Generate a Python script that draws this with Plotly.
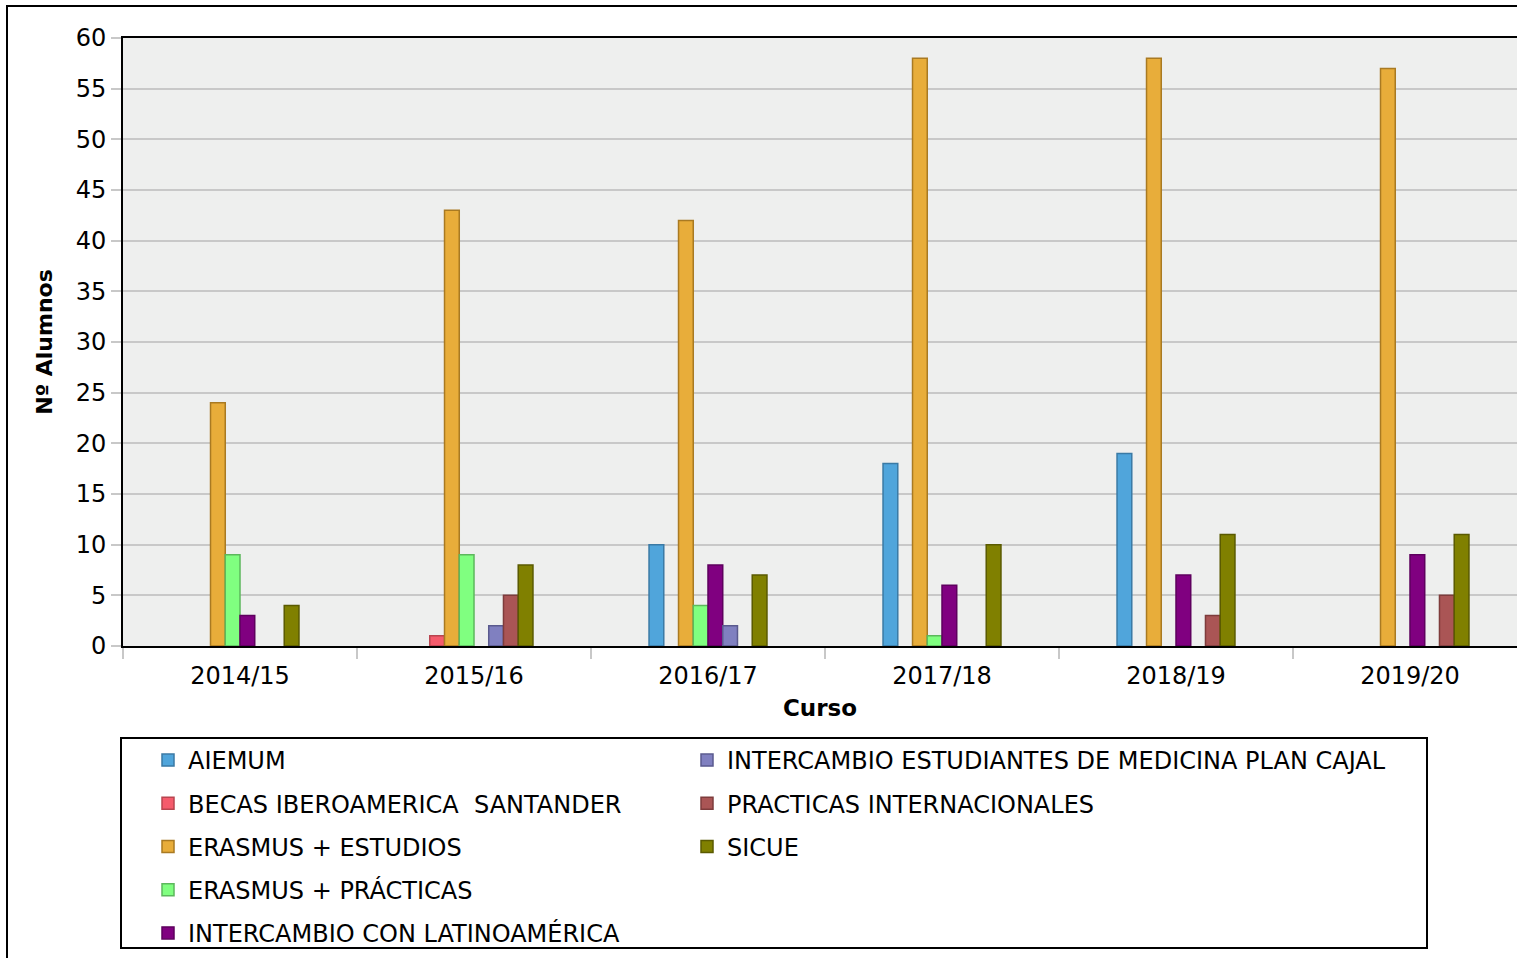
import plotly.graph_objects as go

cursos = ["2014/15", "2015/16", "2016/17", "2017/18", "2018/19", "2019/20"]

aiemum = [0, 0, 10, 18, 19, 0]
becas_santander = [0, 1, 0, 0, 0, 0]
erasmus_estudios = [24, 43, 42, 58, 58, 57]
erasmus_practicas = [9, 9, 4, 1, 0, 0]
intercambio_latam = [3, 0, 8, 6, 7, 9]
plan_cajal = [0, 2, 2, 0, 0, 0]
practicas_int = [0, 5, 0, 0, 3, 5]
sicue = [4, 8, 7, 10, 11, 11]

series = [
    ("AIEMUM", aiemum, "#50a5db", "#3a7aa5", "legend"),
    ("BECAS IBEROAMERICA  SANTANDER", becas_santander, "#f55b6c", "#b8454f", "legend"),
    ("ERASMUS + ESTUDIOS", erasmus_estudios, "#e8ad3a", "#a97a22", "legend"),
    ("ERASMUS + PRÁCTICAS", erasmus_practicas, "#80ff80", "#5cb85c", "legend"),
    ("INTERCAMBIO CON LATINOAMÉRICA", intercambio_latam, "#800080", "#5e005e", "legend"),
    ("INTERCAMBIO ESTUDIANTES DE MEDICINA PLAN CAJAL", plan_cajal, "#8080c0", "#5a5a8e", "legend2"),
    ("PRACTICAS INTERNACIONALES", practicas_int, "#aa5555", "#7e3c3c", "legend2"),
    ("SICUE", sicue, "#808000", "#5a5a00", "legend2"),
]

W, H = 1517, 958
L, R, T, B = 123, 0, 38, 312
pw, ph = W - L - R, H - T - B


def px(x):
    return (x - L) / pw


def py(y):
    return (H - B - y) / ph


fig = go.Figure()
for name, vals, fill, edge, leg in series:
    fig.add_trace(go.Bar(
        name=name, x=cursos, y=[v if v else None for v in vals],
        marker=dict(color=fill, line=dict(color=edge, width=1.5)),
        legend=leg, legendgroup=name,
    ))

font_family = "DejaVu Sans"
legend_common = dict(
    orientation="v", xanchor="left", yanchor="top",
    bgcolor="rgba(0,0,0,0)", borderwidth=0,
    font=dict(family=font_family, size=24, color="black"),
    tracegroupgap=9, traceorder="grouped",
)
fig.update_layout(
    width=W, height=H,
    margin=dict(l=L, r=R, t=T, b=B, pad=0),
    paper_bgcolor="white", plot_bgcolor="#eeefee",
    barmode="group", bargap=0.496, bargroupgap=0,
    font=dict(family=font_family, size=22, color="black"),
    showlegend=True,
    legend=dict(x=px(148), y=py(738), **legend_common),
    legend2=dict(x=px(687), y=py(738), **legend_common),
    xaxis=dict(
        range=[-0.5, -0.5 + pw / 234.0],
        showline=True, linecolor="black", linewidth=2, mirror=True,
        ticks="outside", tickson="boundaries", ticklen=11, tickwidth=2,
        tickcolor="#c8c8c8", showgrid=False,
        tickfont=dict(size=24), ticklabelstandoff=7,
        title=dict(text="<b>Curso</b>", font=dict(size=23), standoff=11),
    ),
    yaxis=dict(
        range=[0, 60], dtick=5, tick0=0,
        showline=True, linecolor="black", linewidth=2,
        ticks="outside", ticklen=10, tickwidth=2, tickcolor="#c8c8c8",
        showgrid=True, gridcolor="#c8c8c8", gridwidth=2,
        zeroline=False,
        tickfont=dict(size=24),
        title=dict(text="<b>Nº Alumnos</b>", font=dict(size=22), standoff=17),
    ),
)

# outer frame around the chart
fig.add_shape(
    type="rect", xref="paper", yref="paper",
    x0=px(7), x1=px(W + 20), y0=py(H + 20), y1=py(6),
    line=dict(color="black", width=2), fillcolor="rgba(0,0,0,0)", layer="below",
)
# box around both legend columns
fig.add_shape(
    type="rect", xref="paper", yref="paper",
    x0=px(121), x1=px(1427), y0=py(948), y1=py(738),
    line=dict(color="black", width=2), fillcolor="rgba(0,0,0,0)", layer="below",
)

fig.write_html(
    "out.html",
    config={"displayModeBar": False},
    post_script="document.body.style.margin='0';document.body.style.overflow='hidden';",
)
